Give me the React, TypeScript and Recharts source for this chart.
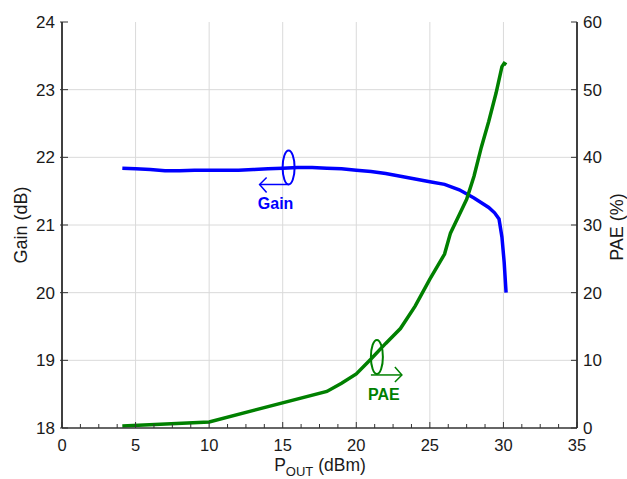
import React from 'react';
import { LineChart, Line, XAxis, YAxis, ReferenceLine, ReferenceDot, Customized } from 'recharts';

const gainX = [4.1, 5, 6, 7, 8, 9, 10, 11, 12, 13, 14, 15, 16, 17, 18, 19, 20, 21, 22, 23, 24, 25, 26, 27, 28, 29, 29.4, 29.7, 29.9, 30.05, 30.18];
const gainY = [21.84, 21.83, 21.82, 21.8, 21.8, 21.81, 21.81, 21.81, 21.81, 21.82, 21.83, 21.84, 21.85, 21.85, 21.84, 21.83, 21.81, 21.79, 21.76, 21.72, 21.68, 21.64, 21.6, 21.52, 21.4, 21.26, 21.18, 21.09, 20.82, 20.45, 20.0];

const paeX = [4.1, 10, 18, 19, 20, 21, 22, 23, 24, 25, 26, 26.4, 27, 27.5, 28, 28.5, 29, 29.5, 29.9, 30.05, 30.2];
const paeY = [0.3, 0.9, 5.4, 6.6, 8.0, 10.2, 12.5, 14.7, 18.0, 22.0, 25.7, 28.8, 31.5, 33.8, 37.2, 41.5, 45.3, 49.5, 53.4, 53.9, 53.7];

const xMajorTicks = [0, 5, 10, 15, 20, 25, 30, 35];
const xMinorTicks = [0, 1.25, 2.5, 3.75, 5, 6.25, 7.5, 8.75, 10, 11.25, 12.5, 13.75, 15, 16.25, 17.5, 18.75, 20, 21.25, 22.5, 23.75, 25, 26.25, 27.5, 28.75, 30, 31.25, 32.5, 33.75, 35];
const gainTicks = [18, 19, 20, 21, 22, 23, 24];
const paeTicks = [0, 10, 20, 30, 40, 50, 60];
const xGrid = [5, 10, 15, 20, 25, 30];
const yGrid = [19, 20, 21, 22, 23];

const gainAnnot = { x: 15.4, y: 21.85, label: 'Gain' };
const paeAnnot = { x: 21.4, y: 10.5, label: 'PAE' };

const gainData = gainX.map((x, i) => ({ x, gain: gainY[i] }));
const paeData = paeX.map((x, i) => ({ x, pae: paeY[i] }));

const FONT = '"Liberation Sans", Arial, sans-serif';
const BLUE = '#0000ff';
const GREEN = '#008000';
const TICK_COLOR = '#333';

const BottomTick = (props: any) => {
  const { x, y, payload } = props;
  const v = payload.value;
  const major = xMajorTicks.includes(v);
  return (
    <g>
      <line x1={x} x2={x} y1={y} y2={y - (major ? 6 : 4)} stroke={TICK_COLOR} strokeWidth={1} />
      {major && (
        <text x={x} y={y + 23} textAnchor="middle" fontSize={16.5} fontFamily={FONT} fill="#1a1a1a">
          {v}
        </text>
      )}
    </g>
  );
};

const TopTick = (props: any) => {
  const { x, y, payload } = props;
  const major = xMajorTicks.includes(payload.value);
  return <line x1={x} x2={x} y1={y} y2={y + (major ? 6 : 4)} stroke={TICK_COLOR} strokeWidth={1} />;
};

const LeftTick = (props: any) => {
  const { x, y, payload } = props;
  return (
    <g>
      <line x1={x - 2} x2={x + 6} y1={y} y2={y} stroke={TICK_COLOR} strokeWidth={1} />
      <text x={x - 7} y={y + 6} textAnchor="end" fontSize={17} fontFamily={FONT} fill="#1a1a1a">
        {payload.value}
      </text>
    </g>
  );
};

const RightTick = (props: any) => {
  const { x, y, payload } = props;
  return (
    <g>
      <line x1={x - 6} x2={x} y1={y} y2={y} stroke={TICK_COLOR} strokeWidth={1} />
      <text x={x + 6} y={y + 6} textAnchor="start" fontSize={17} fontFamily={FONT} fill="#1a1a1a">
        {payload.value}
      </text>
    </g>
  );
};

const GainMarker = (props: any) => {
  const { cx, cy } = props;
  if (cx == null || cy == null) return null;
  return (
    <g>
      <ellipse cx={cx} cy={cy} rx={6} ry={17} fill="none" stroke={BLUE} strokeWidth={2} />
      <line x1={cx} y1={cy + 17} x2={cx - 29} y2={cy + 17} stroke={BLUE} strokeWidth={1.5} />
      <polyline points={`${cx - 22},${cy + 10} ${cx - 29},${cy + 17} ${cx - 22},${cy + 25}`} fill="none" stroke={BLUE} strokeWidth={1.5} />
      <text x={cx - 13} y={cy + 42} textAnchor="middle" fontSize={16} fontWeight="bold" fontFamily={FONT} fill={BLUE}>
        {gainAnnot.label}
      </text>
    </g>
  );
};

const PaeMarker = (props: any) => {
  const { cx, cy } = props;
  if (cx == null || cy == null) return null;
  return (
    <g>
      <ellipse cx={cx} cy={cy} rx={6} ry={17} fill="none" stroke={GREEN} strokeWidth={2} />
      <line x1={cx - 6} y1={cy + 18} x2={cx + 25} y2={cy + 18} stroke={GREEN} strokeWidth={1.5} />
      <polyline points={`${cx + 18},${cy + 10} ${cx + 25},${cy + 18} ${cx + 18},${cy + 25}`} fill="none" stroke={GREEN} strokeWidth={1.5} />
      <text x={cx + 7} y={cy + 43} textAnchor="middle" fontSize={16} fontWeight="bold" fontFamily={FONT} fill={GREEN}>
        {paeAnnot.label}
      </text>
    </g>
  );
};

const AxisTitles = () => (
  <g fontFamily={FONT} fill="#1a1a1a">
    <text transform="translate(21,225) rotate(-90)" textAnchor="middle" dominantBaseline="central" fontSize={18}>
      Gain (dB)
    </text>
    <text transform="translate(617,227) rotate(-90)" textAnchor="middle" dominantBaseline="central" fontSize={18}>
      PAE (%)
    </text>
    <text x={320} y={471} textAnchor="middle" fontSize={17.5}>
      P<tspan fontSize={13} dy={5}>OUT</tspan>
      <tspan dy={-5}> (dBm)</tspan>
    </text>
  </g>
);

export default function App() {
  return (
    <div style={{ position: 'absolute', left: 0, top: 0, width: 627, height: 479, background: '#fff' }}>
      <LineChart width={627} height={479} margin={{ top: 22, right: 10, bottom: 21, left: 12 }}>
        <XAxis
          xAxisId="bottom"
          type="number"
          dataKey="x"
          domain={[0, 35]}
          ticks={xMinorTicks}
          interval={0}
          allowDataOverflow
          height={30}
          tickSize={0}
          tickMargin={0}
          tickLine={false}
          tick={<BottomTick />}
          axisLine={{ stroke: '#333', strokeWidth: 1.5 }}
        />
        <XAxis
          xAxisId="top"
          orientation="top"
          type="number"
          dataKey="x"
          domain={[0, 35]}
          ticks={xMinorTicks}
          interval={0}
          allowDataOverflow
          height={0}
          tickSize={0}
          tickMargin={0}
          tickLine={false}
          tick={<TopTick />}
          axisLine={{ stroke: '#333', strokeWidth: 1.5 }}
        />
        <YAxis
          yAxisId="left"
          type="number"
          domain={[18, 24]}
          ticks={gainTicks}
          interval={0}
          allowDataOverflow
          width={50}
          tickSize={0}
          tickMargin={0}
          tickLine={false}
          tick={<LeftTick />}
          axisLine={{ stroke: '#000', strokeWidth: 1.5 }}
        />
        <YAxis
          yAxisId="right"
          orientation="right"
          type="number"
          domain={[0, 60]}
          ticks={paeTicks}
          interval={0}
          allowDataOverflow
          width={40}
          tickSize={0}
          tickMargin={0}
          tickLine={false}
          tick={<RightTick />}
          axisLine={{ stroke: '#000', strokeWidth: 1.5 }}
        />
        {xGrid.map((v) => (
          <ReferenceLine key={'gx' + v} x={v} xAxisId="bottom" yAxisId="left" stroke="#dadada" strokeWidth={1} />
        ))}
        {yGrid.map((v) => (
          <ReferenceLine key={'gy' + v} y={v} xAxisId="bottom" yAxisId="left" stroke="#dadada" strokeWidth={1} />
        ))}
        <Line
          data={gainData}
          xAxisId="bottom"
          yAxisId="left"
          dataKey="gain"
          type="linear"
          stroke={BLUE}
          strokeWidth={3.5}
          dot={false}
          activeDot={false}
          isAnimationActive={false}
        />
        <Line
          data={paeData}
          xAxisId="bottom"
          yAxisId="right"
          dataKey="pae"
          type="linear"
          stroke={GREEN}
          strokeWidth={3.5}
          dot={false}
          activeDot={false}
          isAnimationActive={false}
        />
        <ReferenceDot x={gainAnnot.x} y={gainAnnot.y} xAxisId="bottom" yAxisId="left" shape={GainMarker} />
        <ReferenceDot x={paeAnnot.x} y={paeAnnot.y} xAxisId="bottom" yAxisId="right" shape={PaeMarker} />
        <Customized component={<AxisTitles />} />
      </LineChart>
    </div>
  );
}
